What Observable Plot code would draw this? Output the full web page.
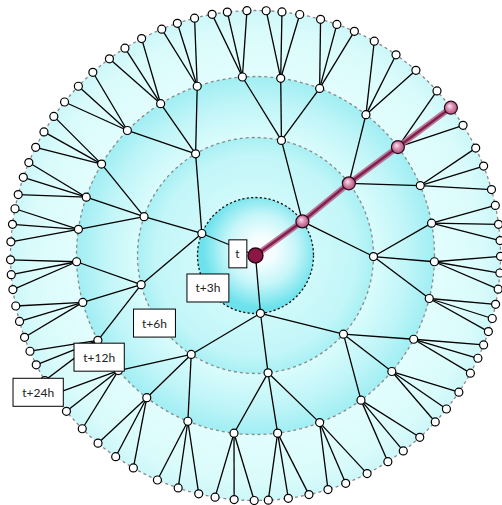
<!DOCTYPE html>
<html>
<head>
<meta charset="utf-8">
<script src="https://cdn.jsdelivr.net/npm/d3@7"></script>
<script src="https://cdn.jsdelivr.net/npm/@observablehq/plot@0.6"></script>
<style>
  html, body { margin: 0; padding: 0; background: #fff; }
  #chart svg { display: block; }
</style>
</head>
<body>
<div id="chart"></div>
<script>
// Forecast horizons, one ring per horizon
const horizons = ["t", "t+3h", "t+6h", "t+12h", "t+24h"];

// Node angles in degrees (clockwise from east).
// Node i of a ring is a child of node floor(i/3) of the previous ring.
const angles3h = [85.1, 202.3, 324.0];
const angles6h = [41.8, 83.9, 123.0, 165.7, 199.2, 239.5, 282.7, 322.3, 0.5];
const angles12h = [27.9, 40.4, 53.9, 69.0, 82.9, 96.9, 112.2, 127.4, 140.0,
  151.7, 164.8, 178.0, 188.4, 199.0, 210.7, 224.3, 238.0, 251.0,
  265.8, 278.1, 291.0, 308.1, 322.7, 337.0, 349.6, 2.0, 13.9];
const angles24h = [21.4, 24.8, 28.7, 33.9, 38.8, 42.8, 47.9, 52.9, 57.3,
  62.9, 68.4, 72.8, 77.4, 82.3, 87.0, 90.3, 95.0, 99.5,
  103.4, 108.4, 113.6, 119.9, 124.8, 130.0, 135.0, 140.5, 145.5,
  149.3, 153.5, 157.0, 160.5, 164.4, 168.1, 172.0, 175.5, 179.0,
  183.2, 187.3, 191.0, 194.4, 198.6, 202.3, 206.2, 210.3, 214.6,
  218.8, 223.7, 228.4, 233.4, 237.8, 242.3, 247.5, 251.4, 255.6,
  259.8, 263.4, 268.0, 272.5, 276.2, 280.4, 285.4, 289.4, 293.8,
  299.0, 305.0, 310.9, 317.8, 322.9, 327.9, 334.0, 338.6, 344.4,
  348.2, 352.7, 356.5, 0.2, 4.1, 7.9, 11.5, 14.9, 18.1];

// Highlighted trajectory ends at this leaf of the outer ring
const highlightLeaf = 67;

// ---- layout ----
const ringRadius = d3.scaleOrdinal(horizons, [0, 58, 118, 179, 245]);
const levels = [[0], angles3h, angles6h, angles12h, angles24h];
const byLevel = [];
const nodes = [];
levels.forEach((arr, k) => {
  byLevel[k] = arr.map((a, i) => {
    const r = ringRadius(horizons[k]);
    const th = a * Math.PI / 180;
    const n = {k, i, level: horizons[k], angle: a, x: r * Math.cos(th), y: r * Math.sin(th),
      parent: k ? byLevel[k - 1][Math.floor(i / 3)] : null, hi: false};
    nodes.push(n);
    return n;
  });
});
let cur = byLevel[4][highlightLeaf];
const path = [];
while (cur) { cur.hi = true; path.unshift(cur); cur = cur.parent; }

const edges = nodes.filter(n => n.parent && !(n.hi && n.parent.hi))
  .map(n => ({x1: n.parent.x, y1: n.parent.y, x2: n.x, y2: n.y}));

const rings = horizons.slice(1).reverse();
const ringGrad = {"t+24h": "url(#g4)", "t+12h": "url(#g3)", "t+6h": "url(#g2)", "t+3h": "url(#g1)"};

const labels = horizons.map((h, k) => {
  if (k === 0) return {text: h, x: -18, y: -1};
  const r0 = ringRadius(h);
  const r = r0 + (r0 - 58) * 0.065;
  const a = (144.4 + 0.0128 * r) * Math.PI / 180;
  return {text: h, x: r * Math.cos(a), y: r * Math.sin(a)};
});

const chart = Plot.plot({
  width: 502,
  height: 505,
  margin: 0,
  x: {domain: [-255, 247], axis: null},
  y: {domain: [-255, 250], range: [0, 505], axis: null},
  r: {type: "identity"},
  marks: [
    ...rings.map(h => Plot.dot([h], {
      x: 0, y: 0, r: d => ringRadius(d),
      fill: ringGrad[h],
      stroke: h === "t+3h" ? "#111" : "#8a8a8a",
      strokeWidth: 1.3,
      strokeDasharray: h === "t+3h" ? "2.2 2.2" : "3 3"
    })),
    Plot.link(edges, {x1: "x1", y1: "y1", x2: "x2", y2: "y2", stroke: "#000", strokeWidth: 1.3}),
    Plot.line(path, {x: "x", y: "y", stroke: "#b45a84", strokeWidth: 6, strokeOpacity: 0.8, imageFilter: "blur(0.6px)"}),
    Plot.line(path, {x: "x", y: "y", stroke: "#7c1746", strokeWidth: 2.6, strokeOpacity: 0.9}),
    Plot.dot(nodes.filter(n => !n.hi), {x: "x", y: "y", r: 4, fill: "#fff", stroke: "#000", strokeWidth: 1.2}),
    Plot.dot(path.filter(n => n.k > 0), {x: "x", y: "y", r: 6.5, fill: "url(#pink)", stroke: "#2a0a18", strokeWidth: 1.2}),
    Plot.dot(path.filter(n => n.k === 0), {x: "x", y: "y", r: 7.5, fill: "#8c1747", stroke: "#2a0612", strokeWidth: 1.4}),
    Plot.text(labels, {x: "x", y: "y", text: "text", fontSize: 12, fill: "#222",
      fontFamily: "Lato, 'DejaVu Sans', sans-serif"})
  ]
});

document.getElementById("chart").appendChild(chart);

// gradients
const svg = d3.select(chart);
const defs = svg.insert("defs", ":first-child");
function radial(id, stops, opts = {}) {
  const g = defs.append("radialGradient").attr("id", id)
    .attr("cx", opts.cx || "50%").attr("cy", opts.cy || "50%").attr("r", opts.r || "50%");
  if (opts.fx) g.attr("fx", opts.fx).attr("fy", opts.fy);
  stops.forEach(([o, c]) => g.append("stop").attr("offset", o).attr("stop-color", c));
}
radial("g4", [[0, "#eefefe"], [0.73, "#e2fdfd"], [0.92, "#dafbfb"], [1, "#ccf7f9"]]);
radial("g3", [[0, "#eefefe"], [0.66, "#dafcfc"], [0.85, "#c0f5f8"], [1, "#a0eef3"]]);
radial("g2", [[0, "#f2ffff"], [0.49, "#d0f9fa"], [0.85, "#c2f6f8"], [1, "#a8f0f4"]]);
radial("g1", [[0, "#ffffff"], [0.25, "#f2fdfe"], [0.6, "#c6f6f9"], [1, "#6ee2ec"]], {cx: "55%", cy: "45%"});
radial("pink", [[0, "#fbe3ee"], [0.45, "#d98aae"], [1, "#9a3c68"]], {fx: "38%", fy: "35%", r: "60%"});

// label boxes
svg.selectAll("text").each(function () {
  const t = this;
  const b = t.getBBox();
  const w = 12 + 1.2 * b.width;
  const h = 28;
  const cx = b.x + b.width / 2, cy = b.y + b.height / 2;
  d3.select(t.parentNode).insert("rect", () => t)
    .attr("transform", t.getAttribute("transform"))
    .attr("x", cx - w / 2).attr("y", cy - h / 2)
    .attr("width", w).attr("height", h)
    .attr("fill", "#fff").attr("stroke", "#000").attr("stroke-width", 1);
});
</script>
</body>
</html>
